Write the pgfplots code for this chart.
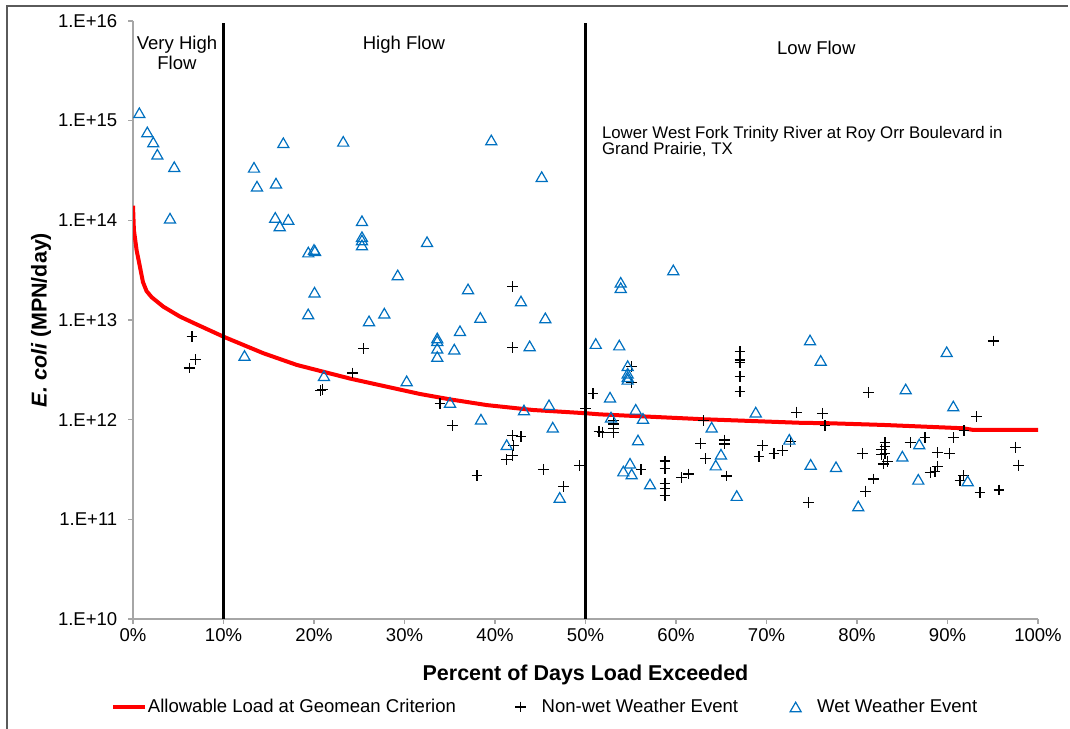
\documentclass[border=0pt]{standalone}
\usepackage{fontspec}
\setmainfont{Liberation Sans}
\usepackage{pgfplots}
\usepackage{pgfplotstable}
\pgfplotsset{compat=1.18}
\definecolor{wetblue}{RGB}{0,112,192}
\definecolor{spine}{RGB}{166,166,166}
\definecolor{framec}{RGB}{90,90,90}
\newcommand{\tfont}{\fontsize{13.9}{15.5}\selectfont}
\newcommand{\lfont}{\fontsize{16.1}{19}\selectfont\bfseries}
\pgfplotsset{
  mylineleg/.style={legend image code/.code={\draw[##1] (0pt,0pt) -- (24pt,0pt);}},
  mymarkleg/.style={legend image code/.code={\draw[##1] plot coordinates {(0pt,0pt)};}},
}

\pgfplotstableread{
x y
0 1.4e14
0.1 8e13
0.4 5e13
0.77 3.4e13
1.1 2.4e13
1.5 1.95e13
2.07 1.69e13
3.35 1.36e13
5.2 1.08e13
7.0 9.06e12
10 6.8e12
14.4 4.64e12
18.1 3.54e12
24 2.58e12
31.7 1.81e12
35 1.6e12
39.1 1.4e12
44.2 1.25e12
50 1.16e12
51.6 1.13e12
63 1.01e12
73.7 9.3e11
77 9.2e11
82.9 8.85e11
91.7 8.2e11
92.8 7.9e11
100 7.9e11
}\allowable

\pgfplotstableread{
x y
6.52 6.8e12
6.88 4.0e12
6.22 3.3e12
25.52 5.15e12
24.23 2.94e12
20.72 1.95e12
20.97 2.01e12
41.96 2.16e13
41.96 5.3e12
33.92 1.46e12
35.28 8.65e11
41.96 6.9e11
42.87 6.75e11
42.02 5.5e11
41.96 4.35e11
41.22 4.0e11
38.01 2.74e11
45.34 3.18e11
49.31 3.45e11
47.59 2.13e11
50.83 1.82e12
50.00 1.28e12
51.49 7.6e11
55.10 3.4e12
55.10 2.37e12
51.90 7.5e11
53.07 9.9e11
53.07 9.05e11
53.07 8.2e11
53.07 7.5e11
67.07 4.8e12
67.07 3.97e12
67.07 3.73e12
67.07 2.70e12
67.07 1.91e12
63.02 9.8e11
62.73 5.8e11
63.31 4.04e11
65.34 6.25e11
65.34 5.7e11
65.60 2.72e11
69.58 5.5e11
70.83 4.6e11
71.79 4.9e11
69.17 4.25e11
72.60 6.0e11
73.34 1.19e12
76.17 1.16e12
76.46 8.75e11
56.13 3.13e11
58.78 3.85e11
58.78 3.25e11
58.78 2.30e11
58.78 2.05e11
58.78 1.75e11
60.63 2.62e11
61.36 2.85e11
74.62 1.48e11
95.06 6.15e12
81.25 1.88e12
93.23 1.07e12
91.82 7.75e11
90.64 6.6e11
87.51 6.6e11
85.86 5.9e11
83.09 5.9e11
83.09 5.35e11
82.73 4.97e11
83.09 4.53e11
82.73 4.43e11
83.35 3.79e11
82.91 3.59e11
80.59 4.6e11
88.87 4.67e11
90.20 4.6e11
88.87 3.37e11
88.62 3.0e11
88.07 2.96e11
91.75 2.74e11
91.38 2.43e11
81.80 2.54e11
80.96 1.92e11
93.59 1.85e11
95.69 1.97e11
97.54 5.3e11
97.87 3.5e11
}\nonwet

\pgfplotstableread{
x y
0.70 1.20e15
1.58 7.7e14
2.24 6.1e14
2.69 4.6e14
4.56 3.45e14
4.09 1.05e14
12.32 4.4e12
21.10 2.76e12
13.37 3.4e14
13.70 2.2e14
15.80 2.36e14
16.61 6.0e14
23.23 6.2e14
15.72 1.07e14
17.16 1.02e14
16.21 8.8e13
19.37 4.8e13
20.11 4.96e13
20.00 5.1e13
20.06 1.9e13
19.36 1.15e13
25.30 9.9e13
25.30 6.85e13
25.30 6.35e13
25.30 5.66e13
29.25 2.83e13
27.77 1.17e13
26.08 9.8e12
30.24 2.45e12
39.59 6.4e14
45.16 2.74e14
32.49 6.1e13
37.02 2.05e13
42.87 1.55e13
38.38 1.06e13
45.56 1.05e13
36.13 7.8e12
33.62 6.6e12
33.62 6.2e12
33.62 5.2e12
33.62 4.3e12
35.50 5.1e12
43.83 5.5e12
35.03 1.49e12
43.20 1.25e12
45.97 1.41e12
38.45 1.01e12
46.38 8.4e11
41.29 5.6e11
47.15 1.66e11
51.13 5.8e12
59.70 3.18e13
53.89 2.39e13
53.89 2.11e13
53.73 5.6e12
54.66 3.48e12
54.66 2.92e12
54.66 2.70e12
54.66 2.54e12
52.71 1.68e12
55.55 1.27e12
52.82 1.06e12
56.35 1.03e12
55.80 6.25e11
63.94 8.4e11
68.81 1.19e12
64.97 4.5e11
64.39 3.5e11
54.92 3.65e11
54.18 3.05e11
55.10 2.85e11
57.13 2.26e11
66.71 1.73e11
72.52 6.35e11
74.81 6.3e12
75.99 3.93e12
74.88 3.56e11
89.91 4.8e12
85.38 2.03e12
90.64 1.37e12
86.88 5.7e11
85.01 4.3e11
77.68 3.37e11
86.77 2.52e11
92.23 2.43e11
80.14 1.36e11
}\wet

\begin{document}
\begin{tikzpicture}
\useasboundingbox (0,0) rectangle (802.5pt,546pt);
\draw[framec, line width=1.1pt] (5.25pt,-2pt) -- (5.25pt,541.5pt) -- (801pt,541.5pt);
\begin{axis}[
  at={(99.75pt,81.75pt)}, anchor=south west,
  width=678.75pt, height=448.5pt, scale only axis,
  xmin=0, xmax=100, ymin=1e10, ymax=1e16, ymode=log,
  axis x line*=bottom, axis y line*=left,
  axis line style={spine, line width=0.8pt, -},
  xtick={0,10,20,30,40,50,60,70,80,90,100},
  xticklabels={0\%,10\%,20\%,30\%,40\%,50\%,60\%,70\%,80\%,90\%,100\%},
  ytick={1e10,1e11,1e12,1e13,1e14,1e15,1e16},
  yticklabels={1.E+10,1.E+11,1.E+12,1.E+13,1.E+14,1.E+15,1.E+16},
  tick align=outside, major tick length=3.75pt, minor tick length=0pt,
  tick style={spine, line width=0.8pt},
  ticklabel style={font=\tfont},
  yticklabel style={xshift=-4.5pt},
  /pgf/number format/assume math mode=true,
  xlabel={Percent of Days Load Exceeded},
  xlabel style={font=\lfont, at={(axis description cs:0.5,-0.0936)}, anchor=center},
  ylabel={{\itshape E. coli} (MPN/day)},
  ylabel style={font=\lfont, at={(axis description cs:-0.1017,0.5)}, anchor=center},
  legend columns=3,
  legend style={at={(axis description cs:-0.0243,-0.1472)}, anchor=west,
    draw=none, fill=none, font=\tfont, inner xsep=0pt, inner ysep=0pt,
    nodes={inner xsep=0pt},
    /tikz/column 1/.style={column sep=0.5pt},
    /tikz/column 2/.style={column sep=44.5pt},
    /tikz/column 3/.style={column sep=11.6pt},
    /tikz/column 4/.style={column sep=39pt},
    /tikz/column 5/.style={column sep=12pt}},
]
\addplot[red, line width=3pt, mylineleg] table[x=x,y=y] {\allowable};
\addlegendentry{Allowable Load at Geomean Criterion}
\addplot[only marks, mark=+, mark size=4.1pt, black, line width=0.8pt, mymarkleg] table[x=x,y=y] {\nonwet};
\addlegendentry{Non-wet Weather Event}
\addplot[only marks, mark=triangle, mark size=4.8pt, wetblue, line width=0.9pt,
  mark options={yshift=-1.2pt}, mymarkleg] table[x=x,y=y] {\wet};
\addlegendentry{Wet Weather Event}
\addplot[black, line width=2.6pt, forget plot] coordinates {(10,1e10) (10,9.6e15)};
\addplot[black, line width=2.6pt, forget plot] coordinates {(50,1e10) (50,9.6e15)};
\node[font=\tfont, align=center] at (axis cs:4.86,4.77e15) {Very High\\Flow};
\node[font=\tfont] at (axis cs:29.94,5.74e15) {High Flow};
\node[font=\tfont] at (axis cs:75.5,5.36e15) {Low Flow};
\node[font=\fontsize{12.6}{12.6}\selectfont, align=left, anchor=west, inner xsep=0pt] at (axis cs:51.8,6.18e14) {Lower West Fork Trinity River at Roy Orr Boulevard in\\Grand Prairie, TX};
\end{axis}
\end{tikzpicture}
\end{document}
